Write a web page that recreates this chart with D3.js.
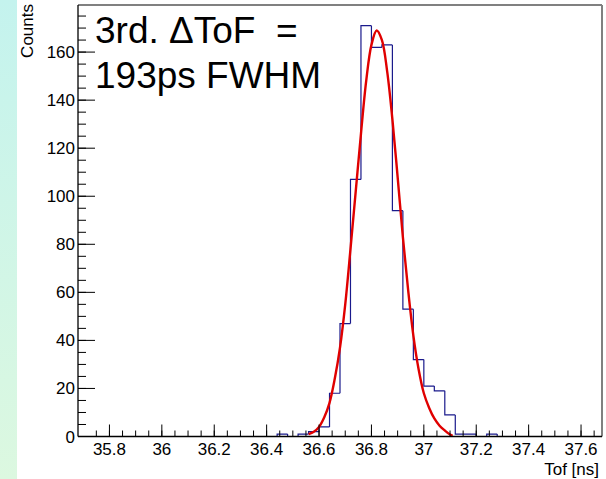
<!DOCTYPE html>
<html><head><meta charset="utf-8">
<script src="https://cdn.jsdelivr.net/npm/d3@7"></script>
<style>
html,body{margin:0;padding:0;background:#fff;}
svg{display:block;font-family:"Liberation Sans",Arial,Helvetica,sans-serif;}
</style></head>
<body>
<svg id="c" width="606" height="479"></svg>
<script>
// ---- data ----
const binWidth = 0.04;
const binLowEdges = [36.40,36.44,36.48,36.52,36.56,36.60,36.64,36.68,36.72,36.76,36.80,36.84,36.88,36.92,36.96,37.00,37.04,37.08,37.12,37.16,37.20,37.24,37.28];
const binCounts   = [0,    1,    0,    1,    2,    4,    18,   47,   107,  171,  162,  163,  94,   53,   32,   21,   19,   9,    1,    1,    0,    1,    0];
const fitX = [36.56,36.58,36.60,36.62,36.64,36.66,36.68,36.70,36.72,36.74,36.76,36.78,36.80,36.82,36.84,36.86,36.88,36.90,36.92,36.94,36.96,36.98,37.00,37.02,37.04,37.06,37.08,37.10,37.11];
const fitY = [1,    2,    4,    8,    14,   24,   37,   55,   78,   102,  126,  148,  163,  169,  165,  152,  132,  108,  83,   61,   42,   28,   18,   12,   7.5,  4.5,  2.5,  0.8,  0.3];
const xTickValues = [35.8,36,36.2,36.4,36.6,36.8,37,37.2,37.4,37.6];
const xTickLabels = ["35.8","36","36.2","36.4","36.6","36.8","37","37.2","37.4","37.6"];
const yTickValues = [0,20,40,60,80,100,120,140,160];
const xDomain = [35.68, 37.68];
const yDomain = [0, 179.6];
const xTitle = "Tof [ns]";
const yTitle = "Counts";
const noteLines = ["3rd. \u0394ToF  =", "193ps FWHM"];

// ---- drawing ----
const svg = d3.select("#c");
const L = 78, R = 602, T = 5, B = 436.5;
const x = d3.scaleLinear().domain(xDomain).range([L, R]);
const y = d3.scaleLinear().domain(yDomain).range([B, T]);

// left gradient strip
const defs = svg.append("defs");
const g = defs.append("linearGradient").attr("id","strip").attr("x1",0).attr("y1",0).attr("x2",0).attr("y2",1);
g.append("stop").attr("offset","0%").attr("stop-color","#c4f3ee");
g.append("stop").attr("offset","100%").attr("stop-color","#dcf8e0");
svg.append("rect").attr("x",0).attr("y",0).attr("width",17).attr("height",479).attr("fill","url(#strip)");

// frame (top/right gray)
svg.append("line").attr("x1",L).attr("x2",R).attr("y1",T).attr("y2",T).attr("stroke","#808080").attr("stroke-width",2);
svg.append("line").attr("x1",R).attr("x2",R).attr("y1",T).attr("y2",B).attr("stroke","#808080").attr("stroke-width",2);

// histogram step outline
let dpath = "";
binLowEdges.forEach((e,i)=>{
  const x0 = x(e), x1 = x(e+binWidth), yv = y(binCounts[i]);
  const prev = i>0 ? y(binCounts[i-1]) : y(0);
  dpath += `M${x0},${prev}L${x0},${yv}L${x1},${yv}`;
});
svg.append("path").attr("d",dpath).attr("fill","none").attr("stroke","#1a1a8c").attr("stroke-width",1.2);

// fit curve
const fitLine = d3.line().x((d,i)=>x(fitX[i])).y(d=>y(d)).curve(d3.curveCatmullRom.alpha(0.5));
svg.append("path").attr("d",fitLine(fitY)).attr("fill","none").attr("stroke","#e00000").attr("stroke-width",2.4);

// axes
const fs = "17px";
// X axis
svg.append("line").attr("x1",L).attr("x2",R).attr("y1",B).attr("y2",B).attr("stroke","#000").attr("stroke-width",1.3);
const xMinor = d3.range(Math.round(xDomain[0]*20)+1, Math.round(xDomain[1]*20)).map(v=>v/20);
svg.append("g").selectAll("line").data(xMinor).join("line")
  .attr("x1",d=>x(d)).attr("x2",d=>x(d)).attr("y1",B).attr("y2",B-6).attr("stroke","#000").attr("stroke-width",1);
svg.append("g").selectAll("line").data(xTickValues).join("line")
  .attr("x1",d=>x(d)).attr("x2",d=>x(d)).attr("y1",B).attr("y2",B-12).attr("stroke","#000").attr("stroke-width",1);
svg.append("g").selectAll("text").data(xTickValues).join("text")
  .attr("x",d=>x(d)).attr("y",455).attr("text-anchor","middle").attr("font-size",fs).attr("fill","#000")
  .text((d,i)=>xTickLabels[i]);
svg.append("text").attr("x",599).attr("y",474.5).attr("text-anchor","end").attr("font-size",fs).text(xTitle);

// Y axis
svg.append("line").attr("x1",L).attr("x2",L).attr("y1",T).attr("y2",B).attr("stroke","#000").attr("stroke-width",1.3);
const yMinor = d3.range(5, 180, 5);
svg.append("g").selectAll("line").data(yMinor).join("line")
  .attr("x1",L).attr("x2",L+8).attr("y1",d=>y(d)).attr("y2",d=>y(d)).attr("stroke","#000").attr("stroke-width",1);
svg.append("g").selectAll("line").data(yTickValues).join("line")
  .attr("x1",L).attr("x2",L+17).attr("y1",d=>y(d)).attr("y2",d=>y(d)).attr("stroke","#000").attr("stroke-width",1);
svg.append("g").selectAll("text").data(yTickValues).join("text")
  .attr("x",75).attr("y",d=>y(d)+6).attr("text-anchor","end").attr("font-size",fs).attr("fill","#000")
  .text(d=>d);
svg.append("text").attr("transform","translate(33,4) rotate(-90)").attr("text-anchor","end").attr("font-size",fs).text(yTitle);

// annotation
svg.append("text").attr("x",95).attr("y",43).attr("font-size","37px").style("white-space","pre").text(noteLines[0]);
svg.append("text").attr("x",95).attr("y",88).attr("font-size","37px").style("white-space","pre").text(noteLines[1]);
</script>
</body></html>
